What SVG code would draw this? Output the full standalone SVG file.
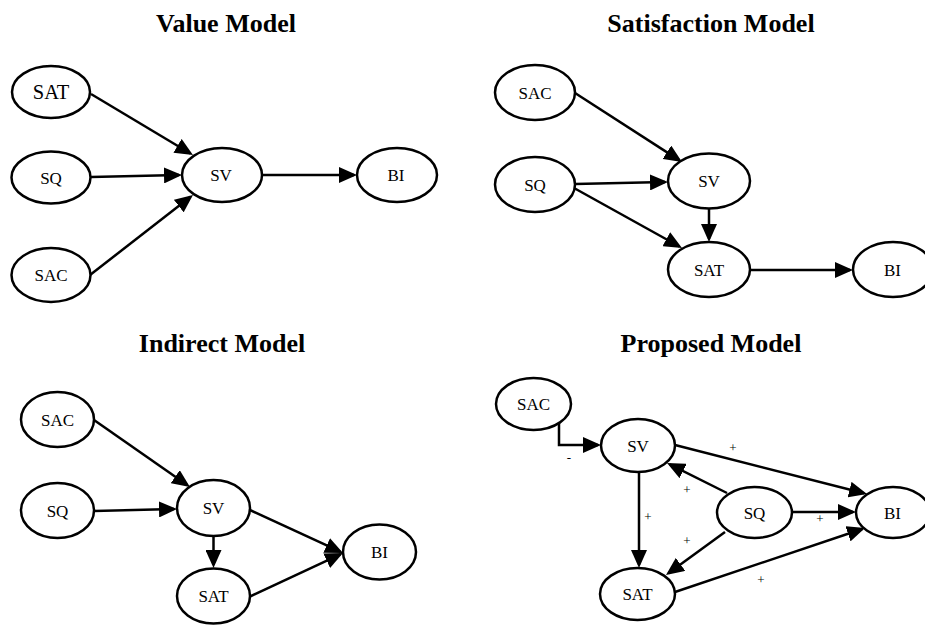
<svg xmlns="http://www.w3.org/2000/svg" width="925" height="628" viewBox="0 0 925 628">
  <style>
    .title { font-family: "Liberation Serif", "Times New Roman", serif; font-weight: bold; font-size: 26px; text-anchor: middle; fill: #000; }
    .node ellipse { fill: #fff; stroke: #000; stroke-width: 2.5; }
    .node text { font-family: "Liberation Serif", "Times New Roman", serif; font-size: 17px; text-anchor: middle; fill: #000; }
    .edges line, .edges polyline { stroke: #000; stroke-width: 2.5; fill: none; marker-end: url(#arrow); }
    .sign { font-family: "Liberation Serif", "Times New Roman", serif; font-size: 13px; text-anchor: middle; fill: #000; }
  </style>
  <defs>
    <!-- filled triangular arrowhead, tip 3px past the line end -->
    <marker id="arrow" viewBox="0 0 18 16" refX="15" refY="8" markerWidth="18" markerHeight="16" markerUnits="userSpaceOnUse" orient="auto">
      <path d="M0,0 L18,8 L0,16 z" fill="#000"/>
    </marker>
  </defs>
  <rect width="925" height="628" fill="#fff"/>

  <!-- Titles -->
  <text class="title" x="226" y="32">Value Model</text>
  <text class="title" x="711" y="32">Satisfaction Model</text>
  <text class="title" x="222" y="352">Indirect Model</text>
  <text class="title" x="711" y="352">Proposed Model</text>

  <!-- Value Model connectors -->
  <g id="edges-value" class="edges">
    <line x1="91" y1="94" x2="190.4" y2="153.5"/>
    <line x1="91" y1="177" x2="179" y2="175.1"/>
    <line x1="90" y1="275" x2="190.6" y2="196.8"/>
    <line x1="262" y1="175" x2="354" y2="175" stroke-width="2"/>
  </g>
  <g id="v-sat" class="node"><ellipse cx="51" cy="92" rx="39" ry="26"/><text x="51" y="99" style="font-size:20.5px">SAT</text></g>
  <g id="v-sq" class="node"><ellipse cx="51" cy="177.5" rx="39.5" ry="26"/><text x="51" y="183.5">SQ</text></g>
  <g id="v-sac" class="node"><ellipse cx="51" cy="275" rx="39.5" ry="27"/><text x="51" y="281">SAC</text></g>
  <g id="v-sv" class="node"><ellipse cx="222" cy="175" rx="40" ry="27"/><text x="221" y="181">SV</text></g>
  <g id="v-bi" class="node"><ellipse cx="397" cy="175" rx="40" ry="27"/><text x="396" y="181">BI</text></g>

  <!-- Satisfaction Model connectors -->
  <g id="edges-satisfaction" class="edges">
    <line x1="575" y1="93" x2="679.5" y2="160.4"/>
    <line x1="575" y1="184" x2="665" y2="182.1"/>
    <line x1="574" y1="188" x2="679.4" y2="246.5"/>
    <line x1="709" y1="208.5" x2="709" y2="239"/>
    <line x1="750" y1="270" x2="850" y2="270"/>
  </g>
  <g id="s-sac" class="node"><ellipse cx="535" cy="92.5" rx="40" ry="27.5"/><text x="535" y="98.5">SAC</text></g>
  <g id="s-sq" class="node"><ellipse cx="535" cy="184.5" rx="40" ry="27.5"/><text x="535" y="190.5">SQ</text></g>
  <g id="s-sv" class="node"><ellipse cx="709" cy="181" rx="41" ry="27.5"/><text x="709" y="187">SV</text></g>
  <g id="s-sat" class="node"><ellipse cx="709" cy="269.5" rx="41" ry="27.5"/><text x="709" y="275.5">SAT</text></g>
  <g id="s-bi" class="node"><ellipse cx="893" cy="269.5" rx="40" ry="27.5"/><text x="892.5" y="275.5">BI</text></g>

  <!-- Indirect Model connectors -->
  <g id="edges-indirect" class="edges">
    <line x1="94" y1="420" x2="187.5" y2="485.3"/>
    <line x1="94" y1="511" x2="174" y2="509.1"/>
    <line x1="213.5" y1="536" x2="213.5" y2="565"/>
    <line x1="250" y1="510" x2="340.3" y2="551.7"/>
    <line x1="249" y1="597" x2="340.3" y2="554.3"/>
  </g>
  <g id="i-sac" class="node"><ellipse cx="57.5" cy="419.5" rx="36.5" ry="27.5"/><text x="57.5" y="425.5">SAC</text></g>
  <g id="i-sq" class="node"><ellipse cx="57.5" cy="510.5" rx="36.5" ry="27.5"/><text x="57.5" y="516.5">SQ</text></g>
  <g id="i-sv" class="node"><ellipse cx="213.5" cy="508" rx="36.5" ry="28"/><text x="213.5" y="514">SV</text></g>
  <g id="i-sat" class="node"><ellipse cx="213.5" cy="596" rx="36.5" ry="27.5"/><text x="213.5" y="602">SAT</text></g>
  <g id="i-bi" class="node"><ellipse cx="379.5" cy="552" rx="36.5" ry="27.5"/><text x="379.5" y="558">BI</text></g>

  <!-- Proposed Model connectors -->
  <g id="edges-proposed" class="edges">
    <polyline points="559,423 559,445 598,445"/>
    <line x1="675" y1="445" x2="864.1" y2="493.3"/>
    <line x1="727" y1="493" x2="669.7" y2="464.3"/>
    <line x1="639" y1="472" x2="639" y2="565"/>
    <line x1="725" y1="532" x2="668.4" y2="573.2"/>
    <line x1="792" y1="512" x2="853" y2="512"/>
    <line x1="675" y1="592" x2="862.2" y2="529"/>
  </g>
  <g id="edge-signs">
    <text class="sign" x="569" y="462">-</text>
    <text class="sign" x="733" y="452">+</text>
    <text class="sign" x="687" y="494">+</text>
    <text class="sign" x="648" y="521">+</text>
    <text class="sign" x="687" y="545">+</text>
    <text class="sign" x="820" y="523">+</text>
    <text class="sign" x="761" y="584">+</text>
  </g>
  <g id="p-sac" class="node"><ellipse cx="533.5" cy="404" rx="37.5" ry="26"/><text x="533.5" y="410">SAC</text></g>
  <g id="p-sv" class="node"><ellipse cx="638" cy="445.5" rx="37" ry="26.5"/><text x="638" y="451.5">SV</text></g>
  <g id="p-sq" class="node"><ellipse cx="754.5" cy="512.5" rx="37.5" ry="25.5"/><text x="754.5" y="518.5">SQ</text></g>
  <g id="p-bi" class="node"><ellipse cx="893" cy="512.5" rx="37" ry="25.5"/><text x="892.5" y="518.5">BI</text></g>
  <g id="p-sat" class="node"><ellipse cx="637.5" cy="594" rx="37.5" ry="26"/><text x="637.5" y="600">SAT</text></g>
</svg>
